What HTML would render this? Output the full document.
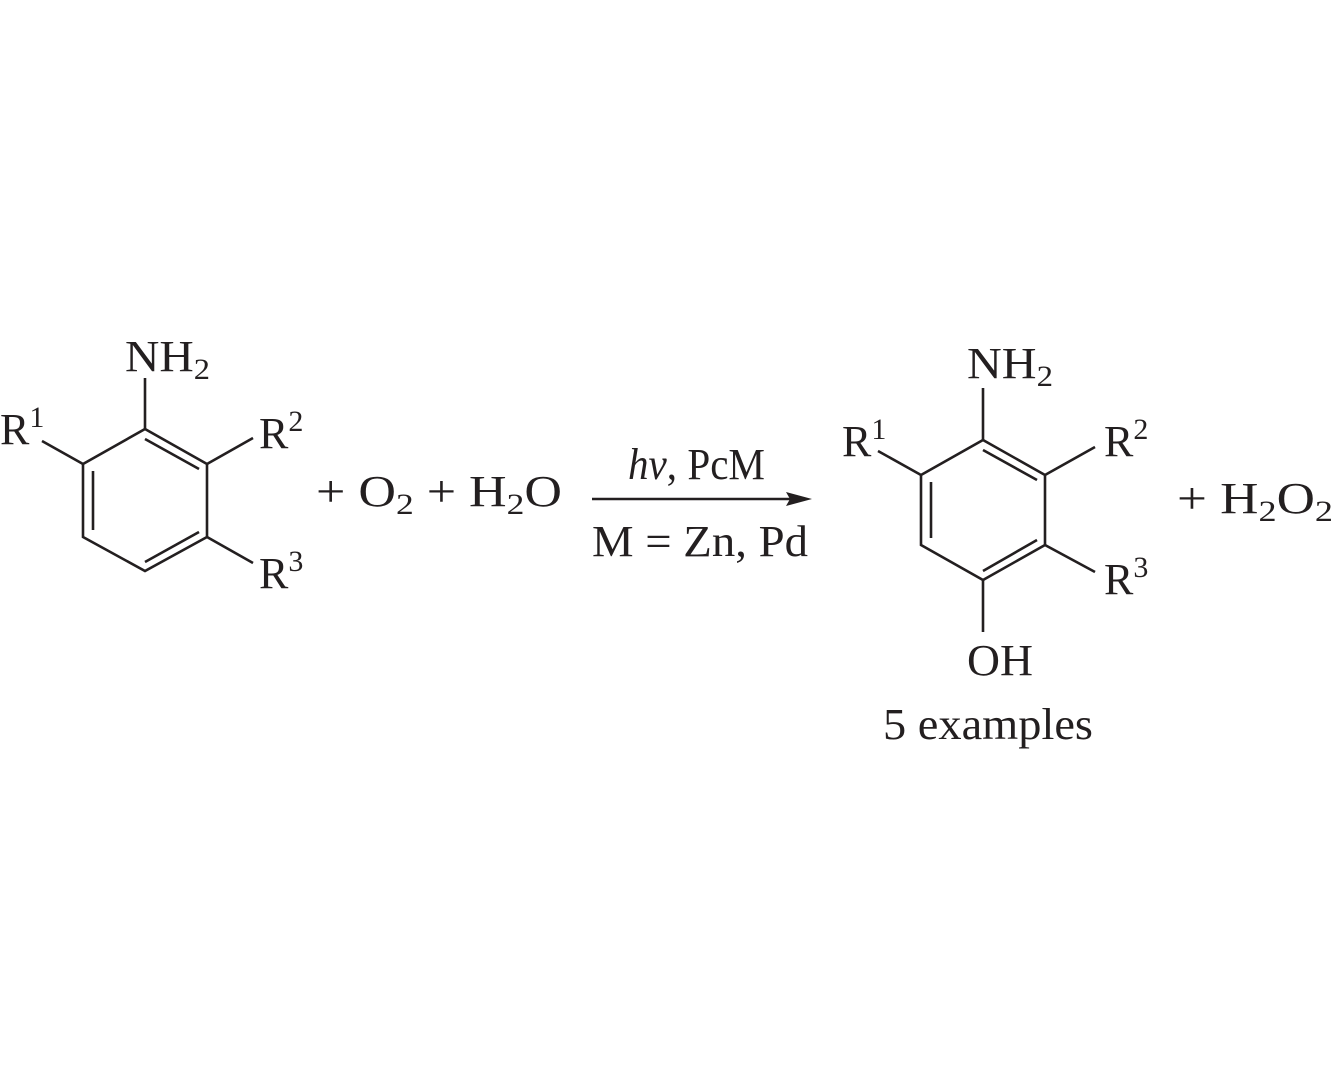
<!DOCTYPE html>
<html><head><meta charset="utf-8"><style>
html,body{margin:0;padding:0;background:#fff;}
svg{display:block;}
text{font-family:"Liberation Serif",serif;fill:#231f20;font-size:44px;}
</style></head><body>
<svg width="1333" height="1085" viewBox="0 0 1333 1085" xmlns="http://www.w3.org/2000/svg">
<g stroke="#231f20" stroke-width="2.6" fill="none" stroke-linecap="butt">
<polygon points="145,429 207,464 207,537 145,571 83,537 83,464"/>
<line x1="145" y1="439" x2="199" y2="469"/>
<line x1="93" y1="471" x2="93" y2="530"/>
<line x1="199" y1="532" x2="145" y2="562"/>
<line x1="145" y1="429" x2="145" y2="378"/>
<line x1="83" y1="464" x2="42" y2="441"/>
<line x1="207" y1="464" x2="253" y2="438"/>
<line x1="207" y1="537" x2="253" y2="563"/>
<polygon points="983,440 1045,475 1045,545 983,580 921,545 921,475"/>
<line x1="983" y1="450" x2="1037" y2="480"/>
<line x1="931" y1="482" x2="931" y2="538"/>
<line x1="1037" y1="540" x2="983" y2="571"/>
<line x1="983" y1="440" x2="983" y2="388"/>
<line x1="983" y1="580" x2="983" y2="632"/>
<line x1="921" y1="475" x2="878" y2="451"/>
<line x1="1045" y1="475" x2="1095" y2="447"/>
<line x1="1045" y1="545" x2="1095" y2="572"/>
<line x1="592" y1="499" x2="795" y2="499"/>
</g>
<polygon points="812,499 786,492 790,499 786,506" fill="#231f20"/>

<text x="125" y="371" textLength="85" lengthAdjust="spacingAndGlyphs">NH<tspan font-size="30" dy="8">2</tspan></text>
<text x="0" y="444">R<tspan font-size="30" dy="-17">1</tspan></text>
<text x="259" y="448">R<tspan font-size="30" dy="-17">2</tspan></text>
<text x="259" y="588">R<tspan font-size="30" dy="-17">3</tspan></text>
<text x="316" y="506" textLength="246" lengthAdjust="spacingAndGlyphs">+  O<tspan font-size="30" dy="8">2</tspan><tspan dy="-8"> + H</tspan><tspan font-size="30" dy="8">2</tspan><tspan dy="-8">O</tspan></text>
<text x="628" y="479" textLength="137" lengthAdjust="spacingAndGlyphs"><tspan font-style="italic">hν</tspan>, PcM</text>
<text x="592" y="556" textLength="216" lengthAdjust="spacingAndGlyphs">M = Zn, Pd</text>

<text x="967" y="378" textLength="86" lengthAdjust="spacingAndGlyphs">NH<tspan font-size="30" dy="8">2</tspan></text>
<text x="842" y="456">R<tspan font-size="30" dy="-17">1</tspan></text>
<text x="1104" y="456">R<tspan font-size="30" dy="-17">2</tspan></text>
<text x="1104" y="594">R<tspan font-size="30" dy="-17">3</tspan></text>
<text x="967" y="675" textLength="66" lengthAdjust="spacingAndGlyphs">OH</text>
<text x="883" y="739" textLength="210" lengthAdjust="spacingAndGlyphs">5 examples</text>
<text x="1177" y="513" textLength="156" lengthAdjust="spacingAndGlyphs">+  H<tspan font-size="30" dy="8">2</tspan><tspan dy="-8">O</tspan><tspan font-size="30" dy="8">2</tspan></text>
</svg>
</body></html>
